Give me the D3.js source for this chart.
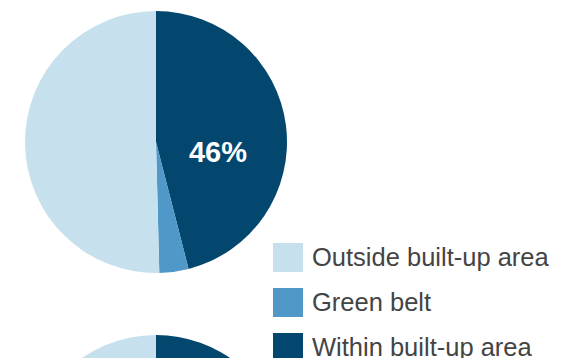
<!DOCTYPE html>
<html>
<head>
<meta charset="utf-8">
<script src="https://cdn.jsdelivr.net/npm/d3@7"></script>
<style>
  html, body { margin: 0; padding: 0; background: #fff; }
  svg { display: block; }
</style>
</head>
<body>
<svg id="chart" width="564" height="358"></svg>
<script>
// Land categories, drawn clockwise from 12 o'clock
const categories = ["Within built-up area", "Green belt", "Outside built-up area"];
const colors = ["#03476f", "#4f98c8", "#c6e0ee"];
// Share of land (%) in each category, one array per pie
const pieTop = [46, 3.6, 50.4];
const pieBottom = [44, 4, 52];
const topLabel = "46%";
// Legend lists categories top-to-bottom
const legendOrder = ["Outside built-up area", "Green belt", "Within built-up area"];

const svg = d3.select("#chart");
const radius = 131;
const cx = 156;

const pie = d3.pie().sort(null).value(d => d);
const arc = d3.arc().innerRadius(0).outerRadius(radius);
const color = d3.scaleOrdinal().domain(categories).range(colors);

function drawPie(values, cy) {
  const g = svg.append("g").attr("transform", `translate(${cx},${cy})`);
  g.selectAll("path")
    .data(pie(values))
    .join("path")
    .attr("d", arc)
    .attr("fill", (d, i) => color(categories[i]));
  return g;
}

const gTop = drawPie(pieTop, 142);
gTop.append("text")
  .attr("x", 62)
  .attr("y", 20)
  .attr("text-anchor", "middle")
  .attr("fill", "#fff")
  .attr("font-family", "Liberation Sans, Arial, sans-serif")
  .attr("font-weight", "bold")
  .attr("font-size", 29)
  .text(topLabel);

drawPie(pieBottom, 466);

// Legend
const legend = svg.append("g").attr("transform", "translate(273,243)");
const items = legend.selectAll("g")
  .data(legendOrder)
  .join("g")
  .attr("transform", (d, i) => `translate(0,${i * 45})`);
items.append("rect")
  .attr("width", 30)
  .attr("height", 29)
  .attr("fill", d => color(d));
items.append("text")
  .attr("x", 39)
  .attr("y", 23)
  .attr("fill", "#444")
  .attr("font-family", "Liberation Sans, Arial, sans-serif")
  .attr("font-size", 25.5)
  .text(d => d);
</script>
</body>
</html>
